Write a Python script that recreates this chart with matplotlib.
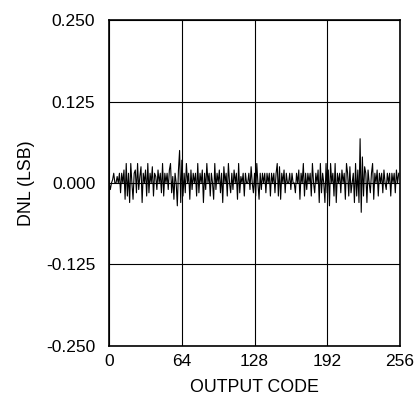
import numpy as np
import matplotlib
matplotlib.use("Agg")
import matplotlib.pyplot as plt

plt.rcParams['font.family'] = ['Liberation Sans', 'DejaVu Sans']
plt.rcParams['axes.unicode_minus'] = False

# DNL per output code, in thousandths of an LSB
dnl_milli = [
    0, -10, 0, 5, 15, 0, 0, 10, 0, 15, -15, 15, 0, 20, -25, 30,
    -20, 15, -30, 30, 0, -25, 15, 20, -15, 30, -10, 10, 25, -30, 15, 0,
    20, -20, 30, -15, 15, 0, 25, -20, 15, 10, -10, 20, 0, 15, -15, 30,
    -20, 15, 0, 15, -10, 20, 30, -15, 10, -25, 15, 0, -35, 20, 50, -30,
    35, -20, 15, -15, 30, 0, 15, -25, 20, -10, 15, 0, 15, -20, 30, -15,
    15, 0, 20, -30, 15, -10, 30, 0, 15, -20, 15, 0, -25, 30, -10, 15,
    0, 20, -15, 15, -30, 25, 0, 15, -20, 30, 0, -15, 15, -10, 20, 0,
    15, -25, 30, -15, 10, 0, 15, -20, 15, 0, 0, 15, -10, 25, 0, -15,
    15, -20, 30, 0, -25, 15, -10, 15, 0, 15, -15, 15, 0, 15, -20, 15,
    0, 15, -15, 15, 30, -20, 25, -25, 15, 0, 20, -15, 15, 0, 0, 15,
    -10, 15, 0, 0, -15, 15, 0, 20, -25, 15, 0, 30, -20, 15, -10, 15,
    0, 15, -20, 30, 0, -15, 15, 0, 20, -30, 30, -15, 15, 0, -30, 30,
    -15, 20, -35, 30, 0, 15, -20, 30, -30, 15, 0, 15, -15, 20, 0, 15,
    -25, 30, 15, -20, 25, -15, 0, 15, -30, 30, -20, 20, -30, 68, -45, 40,
    -20, 25, 15, -30, 20, 0, -15, 15, 30, -25, 15, 0, 20, -20, 15, 0,
    15, -15, 20, 0, -10, 15, 0, 15, -20, 15, 0, 15, -15, 20, 0, 15,
]
codes = np.arange(len(dnl_milli))
dnl = np.array(dnl_milli) / 1000.0

x_ticks = [0, 64, 128, 192, 256]
y_ticks = [-0.25, -0.125, 0.0, 0.125, 0.25]
y_labels = ["-0.250", "-0.125", "0.000", "0.125", "0.250"]

fig = plt.figure(figsize=(4.2, 4.04), dpi=100)
ax = fig.add_axes([0.26, 0.144, 0.692, 0.806])

ax.plot(codes, dnl, color='black', linewidth=0.8)

ax.set_xlim(0, 256)
ax.set_ylim(-0.25, 0.25)
ax.set_xticks(x_ticks)
ax.set_yticks(y_ticks)
ax.set_yticklabels(y_labels)
ax.grid(True, color='black', linewidth=0.8)
ax.tick_params(length=0, labelsize=12.5)
ax.tick_params(axis='y', pad=10)
ax.tick_params(axis='x', pad=6)
for s in ax.spines.values():
    s.set_linewidth(1.2)

ax.set_xlabel("OUTPUT CODE", fontsize=12.8, labelpad=7)
ax.set_ylabel("DNL (LSB)", fontsize=12.8, labelpad=8)

fig.savefig("out.png", dpi=100)
